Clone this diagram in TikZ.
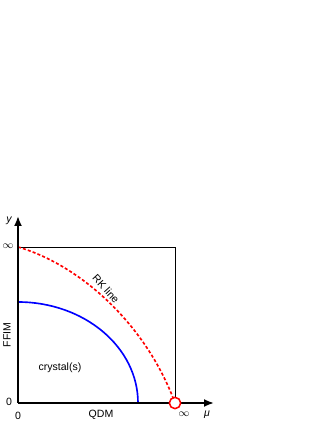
\documentclass[tikz,border=0pt]{standalone}
\usepackage{fontspec}
\setmainfont{Liberation Sans}
\usepackage{tikz}
\usetikzlibrary{positioning,arrows.meta}
\usepackage{xcolor}

\begin{document}
\begin{tikzpicture}[x=0.3mm,y=0.3mm,>={Latex[length=3mm,width=2.4mm]},
  lbl/.style={font=\fontsize{9}{11}\selectfont,inner sep=1pt}]
\useasboundingbox (0,0) rectangle (332,430);
\coordinate (O) at (18,27);
\coordinate (ymax) at (18,214);
\coordinate (xmax) at (214,27);
\coordinate (inf) at (175,27);
% box
\draw[line width=0.8pt] (18,183) -- (175,183) -- (inf);
% curves
\draw[blue,line width=1.4pt] (18,128) arc[start angle=90,end angle=0,x radius=120,y radius=101];
\draw[red,line width=1.4pt,dash pattern=on 2.6pt off 1.8pt] (18,183) .. controls (80,165) and (146,106) .. (inf);
% axes
\draw[->,line width=1.6pt] (O) -- (ymax);
\draw[->,line width=1.6pt] (O) -- (xmax);
\node[draw=red,fill=white,circle,line width=1.3pt,minimum size=3.4mm,inner sep=0pt] (pt) at (inf) {};
% labels
\node[lbl,font=\fontsize{9}{11}\selectfont\itshape] (ylab) at (9,209) {y};
\node[lbl] (yinf) at (8,184) {$\infty$};
\node[lbl] (yzero) at (9,28) {0};
\node[lbl] (xzero) at (18,14) {0};
\node[lbl] (qdm) at (101,15) {QDM};
\node[lbl] (xinf) at (184,16) {$\infty$};
\node[lbl,font=\fontsize{9}{11}\selectfont\itshape] (mu) at (207,15) {μ};
\node[lbl,rotate=90] (ffim) at (7,95) {FFIM};
\node[lbl] (cryst) at (60,62) {crystal(s)};
\node[lbl,rotate=-48] (rk) at (106,141) {RK line};
\end{tikzpicture}
\end{document}
